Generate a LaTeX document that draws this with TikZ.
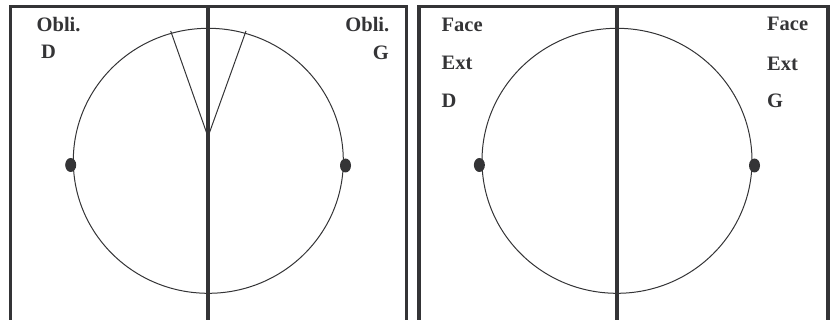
\documentclass[tikz,border=0pt]{standalone}
\usepackage{fontspec}
\setmainfont{Liberation Serif}
\definecolor{ink}{RGB}{52,52,54}
\begin{document}
\begin{tikzpicture}[x=1pt,y=-1pt,
  frame/.style={draw=ink,line width=3.6pt,line join=miter},
  axisline/.style={draw=ink,line width=3.8pt},
  thin/.style={draw=ink,line width=1pt},
  lbl/.style={inner sep=0pt,font=\fontsize{20.5}{24}\selectfont\bfseries,text=ink},
  blob/.style={fill=ink,draw=none}]
\useasboundingbox (0,0) rectangle (837,320);
% left panel
\draw[frame] (10.5,322) -- (10.5,6.5) -- (406.5,6.5) -- (406.5,322);
\draw[thin] (208.3,160.8) ellipse [x radius=135, y radius=132.5];
\coordinate (apexL) at (208,136.7);
\coordinate (tipA) at (170.7,31);
\coordinate (tipB) at (246,31);
\draw[thin] (tipA) -- (apexL) -- (tipB);
\draw[axisline] (208,6.5) -- (208,322);
\fill[blob] (70.7,165) ellipse [x radius=5.5, y radius=7];
\fill[blob] (345.5,165.5) ellipse [x radius=5.5, y radius=7];
\node[lbl,anchor=base west] (obliD) at (36.5,31.7) {Obli.};
\node[lbl,anchor=base west] (dL) at (41,58.5) {D};
\node[lbl,anchor=base east] (obliG) at (389.5,31.7) {Obli.};
\node[lbl,anchor=base east] (gL) at (389,60) {G};
% right panel
\draw[frame] (419,322) -- (419,6.5) -- (828,6.5) -- (828,322);
\draw[thin] (617,160.8) ellipse [x radius=135, y radius=132.5];
\draw[axisline] (617,6.5) -- (617,322);
\fill[blob] (479.4,165) ellipse [x radius=5.5, y radius=7];
\fill[blob] (754.5,165.5) ellipse [x radius=5.5, y radius=7];
\node[lbl,anchor=base west] (faceD) at (441.5,31.7) {Face};
\node[lbl,anchor=base west] (extD) at (441.5,70) {Ext};
\node[lbl,anchor=base west] (dR) at (441.5,107.3) {D};
\node[lbl,anchor=base west] (faceG) at (767,30.5) {Face};
\node[lbl,anchor=base west] (extG) at (767,70.5) {Ext};
\node[lbl,anchor=base west] (gR) at (767,107.5) {G};
\end{tikzpicture}
\end{document}
